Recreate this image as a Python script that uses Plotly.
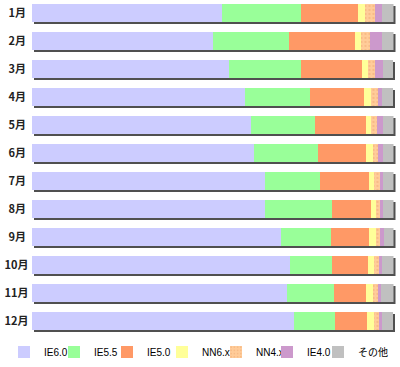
import plotly.graph_objects as go

months = ["1月", "2月", "3月", "4月", "5月", "6月", "7月", "8月", "9月", "10月", "11月", "12月"]
month_labels = [m + "\u00a0" if len(m) == 2 else m for m in months]
series_names = ["IE6.0", "IE5.5", "IE5.0", "NN6.x", "NN4.x", "IE4.0", "その他"]

ie60 = [52.7, 50.2, 54.6, 59.1, 60.7, 61.5, 64.4, 64.6, 69.0, 71.3, 70.6, 72.4]
ie55 = [21.8, 21.0, 19.8, 17.8, 17.6, 17.6, 15.3, 18.3, 13.7, 11.8, 13.0, 11.5]
ie50 = [15.7, 18.3, 16.8, 15.0, 14.0, 13.4, 13.4, 10.8, 10.5, 9.8, 8.9, 8.9]
nn6x = [1.85, 1.6, 1.66, 1.85, 1.6, 1.74, 1.47, 1.38, 1.94, 1.77, 1.94, 1.85]
nn4x = [2.96, 2.5, 2.1, 1.94, 1.66, 1.58, 1.58, 1.1, 1.0, 1.27, 1.3, 1.38]
ie40 = [1.9, 3.2, 2.0, 1.2, 1.47, 1.38, 1.0, 0.9, 1.2, 0.94, 0.9, 0.75]
other = [3.2, 3.2, 3.0, 3.1, 3.0, 2.9, 2.9, 3.0, 2.66, 3.2, 3.4, 3.2]

series_values = [ie60, ie55, ie50, nn6x, nn4x, ie40, other]
colors = ["#ccccff", "#99ff99", "#ff9966", "#ffff99", "#ffcc99", "#cc99cc", "#c0c0c0"]
totals = [sum(v[i] for v in series_values) for i in range(len(months))]

# legend text start positions (px)
legend_text_x = [44, 94, 147, 202, 256, 307, 358]

W, H = 400, 367
plot_h = 335
fig = go.Figure()

# shadow bars (drawn first, behind)
fig.add_trace(go.Bar(
    y=months, x=totals, orientation="h", xaxis="x", yaxis="y",
    marker=dict(color="#505050", line=dict(width=0)), showlegend=False,
    hoverinfo="skip"))

legend_layout = {}
for k, (name, vals, col) in enumerate(zip(series_names, series_values, colors)):
    marker = dict(color=col, line=dict(width=0))
    if name == "NN4.x":
        marker["pattern"] = dict(shape=".", fgcolor="#f0a870", bgcolor=col, size=4, solidity=0.25)
    lg = "legend" if k == 0 else f"legend{k + 1}"
    fig.add_trace(go.Bar(
        y=months, x=vals, orientation="h", name=name, legend=lg,
        xaxis="x2", yaxis="y2", marker=marker))
    legend_layout[lg] = dict(
        x=(legend_text_x[k] - 40) / W, xanchor="left",
        y=-17 / plot_h, yanchor="middle",
        font=dict(size=10, color="#000", family="Liberation Sans, Noto Sans CJK JP, sans-serif"),
        bgcolor="rgba(0,0,0,0)", borderwidth=0)

shift = 2 / 28.0
fig.update_layout(
    width=W, height=H,
    margin=dict(l=0, r=0, t=0, b=H - plot_h, autoexpand=False),
    barmode="stack", bargap=0.357,
    plot_bgcolor="rgba(0,0,0,0)", paper_bgcolor="white",
    font=dict(family="Noto Sans CJK JP, Liberation Sans, sans-serif", size=10, color="#000"),
    xaxis=dict(domain=[33.5 / W, 395.5 / W], range=[0, 100], visible=False, fixedrange=True),
    yaxis=dict(anchor="x", type="category", categoryorder="array", categoryarray=months,
               range=[11.5 - shift, -0.464 - shift], visible=False),
    xaxis2=dict(domain=[31.5 / W, 393.5 / W], range=[0, 100], visible=False, anchor="y2"),
    yaxis2=dict(anchor="x2", type="category", categoryorder="array", categoryarray=months,
                range=[11.5, -0.464], showgrid=False, zeroline=False, showline=False,
                ticks="", ticklabelstandoff=2, automargin=False,
                tickvals=months, ticktext=month_labels,
                tickfont=dict(size=11, weight="bold", color="#222",
                              family="Noto Sans CJK JP, sans-serif")),
    **legend_layout,
)

fig.write_html(
    "out.html",
    config={"displayModeBar": False},
    post_script="document.body.style.margin='0';document.body.style.overflow='hidden';",
)
